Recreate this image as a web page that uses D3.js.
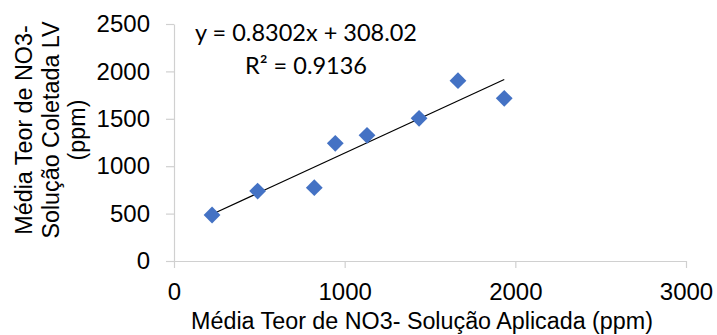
<!DOCTYPE html>
<html>
<head>
<meta charset="utf-8">
<script src="https://cdn.jsdelivr.net/npm/d3@7"></script>
<style>
  html, body { margin: 0; padding: 0; background: #fff; }
  svg { display: block; }
</style>
</head>
<body>
<div id="chart"></div>
<script>
// Data
const xValues = [223, 490, 822, 945, 1131, 1436, 1664, 1935];
const yValues = [485, 738, 773, 1241, 1326, 1505, 1902, 1716];
const xTicks = [0, 1000, 2000, 3000];
const yTicks = [0, 500, 1000, 1500, 2000, 2500];
const slope = 0.8302;
const intercept = 308.02;
const eqLabel = "y = 0.8302x + 308.02";
const r2Label = "R² = 0.9136";
const xTitle = "Média Teor de NO3- Solução Aplicada (ppm)";
const yTitleLines = ["Média Teor de NO3-", "Solução Coletada LV", "(ppm)"];

const W = 717, H = 335;
const svg = d3.select("#chart").append("svg").attr("width", W).attr("height", H);

const x = d3.scaleLinear().domain([0, 3000]).range([174, 686]);
const y = d3.scaleLinear().domain([0, 2500]).range([261, 24]);

const axisColor = "#d0d0d0";
const tickFont = "'Liberation Sans', Arial, sans-serif";

// Y axis
const gy = svg.append("g").attr("transform", `translate(${x(0)},0)`)
  .call(d3.axisLeft(y).tickValues(yTicks).tickSize(8).tickSizeOuter(0).tickPadding(16).tickFormat(d3.format("d")));
// X axis
const gx = svg.append("g").attr("transform", `translate(0,${y(0)})`)
  .call(d3.axisBottom(x).tickValues(xTicks).tickSize(7).tickSizeOuter(0).tickPadding(15).tickFormat(d3.format("d")));

[gx, gy].forEach(g => {
  g.select(".domain").attr("stroke", axisColor).attr("stroke-width", 1.2);
  g.selectAll(".tick line").attr("stroke", axisColor).attr("stroke-width", 1.2);
  g.selectAll(".tick text").attr("fill", "#000").style("font-family", tickFont).style("font-size", "24px");
});

// Trendline
const xs = d3.extent(xValues);
svg.append("line")
  .attr("x1", x(xs[0])).attr("y1", y(slope * xs[0] + intercept))
  .attr("x2", x(xs[1])).attr("y2", y(slope * xs[1] + intercept))
  .attr("stroke", "#000").attr("stroke-width", 1.2);

// Markers
const sym = d3.symbol().type(d3.symbolDiamond2).size(180);
svg.selectAll("path.pt").data(xValues.map((v, i) => [v, yValues[i]]))
  .enter().append("path").attr("class", "pt")
  .attr("d", sym)
  .attr("transform", d => `translate(${x(d[0])},${y(d[1])})`)
  .attr("fill", "#4472C4");

// Equation text
svg.append("text").attr("x", 195).attr("y", 41)
  .attr("textLength", 222).attr("lengthAdjust", "spacingAndGlyphs")
  .style("font-family", "Lato, 'Open Sans', sans-serif").style("font-size", "23px").attr("fill", "#000")
  .text(eqLabel);
svg.append("text").attr("x", 245).attr("y", 74)
  .attr("textLength", 122).attr("lengthAdjust", "spacingAndGlyphs")
  .style("font-family", "Lato, 'Open Sans', sans-serif").style("font-size", "23px").attr("fill", "#000")
  .text(r2Label);

// X title
svg.append("text").attr("x", 422).attr("y", 329).attr("text-anchor", "middle")
  .style("font-family", tickFont).style("font-size", "23.3px").attr("fill", "#000")
  .text(xTitle);

// Y title
const yt = svg.append("text").attr("transform", "translate(32,130) rotate(-90)")
  .attr("text-anchor", "middle")
  .style("font-family", tickFont).style("font-size", "23.3px").attr("fill", "#000");
yTitleLines.forEach((t, i) => {
  yt.append("tspan").attr("x", 0).attr("dy", i === 0 ? 0 : 26.5).text(t);
});
</script>
</body>
</html>
